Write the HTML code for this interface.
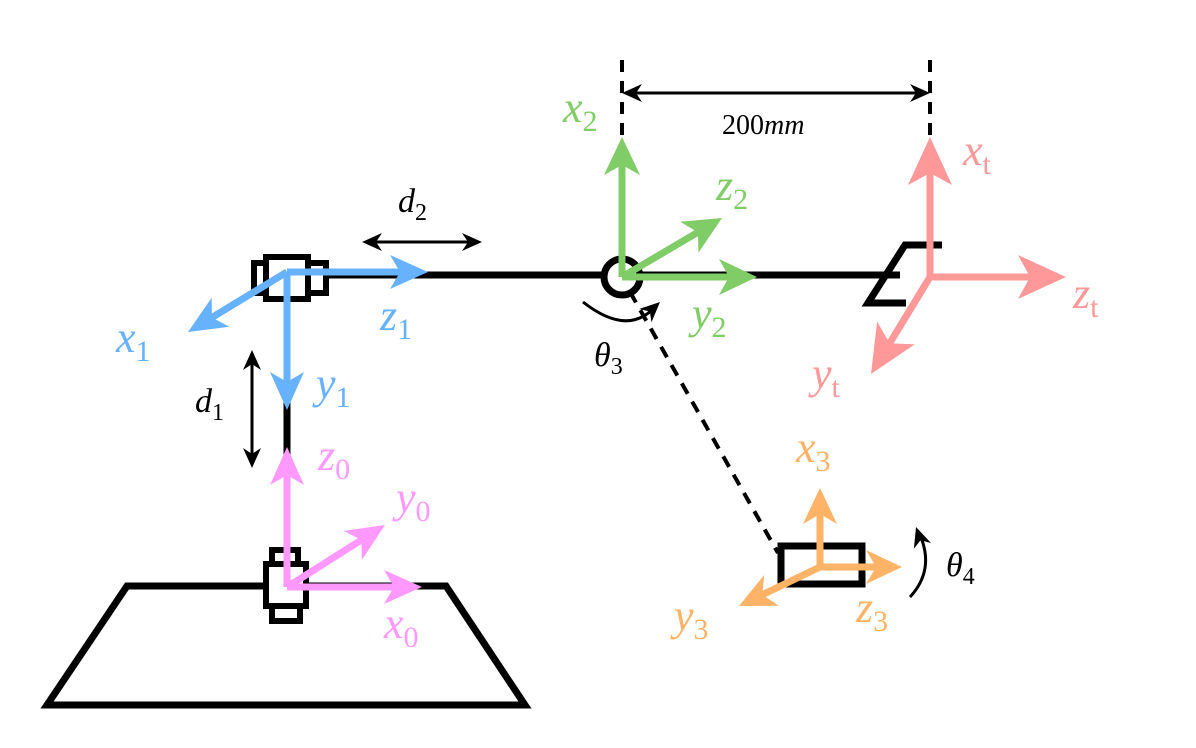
<!DOCTYPE html>
<html><head><meta charset="utf-8"><style>
html,body{margin:0;padding:0;background:#fff;}
svg{display:block;}
text{font-family:"Liberation Serif","DejaVu Serif",serif;}
.v{font-style:italic;font-size:44px;}
.s{font-size:30px;font-style:normal;}
</style></head><body>
<svg id="c" width="1196" height="748" viewBox="0 0 1196 748">
<g fill="none" stroke="#000" stroke-width="7">
<polygon points="127,586 446,586 525,705 47,705" fill="#fff"/>
<line x1="287" y1="300" x2="287" y2="560"/>
<line x1="287" y1="275" x2="900" y2="275"/>
<polyline points="942,245 905,245 868,303 906,303"/>
<rect x="272" y="550" width="26" height="14" fill="#fff" stroke-width="6"/>
<rect x="266" y="564" width="40" height="42" fill="#fff" stroke-width="6"/>
<rect x="272" y="606" width="28" height="15" fill="#fff" stroke-width="6"/>
<rect x="308" y="263" width="18" height="30" fill="#fff" stroke-width="6"/>
<rect x="254" y="263" width="14" height="30" fill="#fff" stroke-width="6"/>
<rect x="266" y="257" width="42" height="42" fill="#fff" stroke-width="6"/>
<circle cx="622" cy="277" r="18" fill="#fff"/>
<rect x="781" y="546" width="81" height="38" fill="#fff" stroke-width="7"/>
</g>
<g stroke="#000" stroke-width="4" fill="none" stroke-dasharray="12,9">
<line x1="630" y1="292" x2="778" y2="553"/>
<line x1="622" y1="60" x2="622" y2="135"/>
<line x1="930" y1="60" x2="930" y2="135"/>
</g>
<g id="arrows"></g>
<g fill="#000">
<text x="722" y="134" font-size="28">200<tspan font-style="italic">mm</tspan></text>
<text class="v" x="398" y="212" style="font-size:34px">d<tspan class="s" dy="8" style="font-size:24px">2</tspan></text>
<text class="v" x="195" y="412" style="font-size:34px">d<tspan class="s" dy="8" style="font-size:24px">1</tspan></text>
<text class="v" x="594" y="366" style="font-size:34px">θ<tspan class="s" dy="8" style="font-size:24px">3</tspan></text>
<text class="v" x="946" y="576" style="font-size:34px">θ<tspan class="s" dy="8" style="font-size:24px">4</tspan></text>
</g>
<g class="lbl">
<text class="v" x="116" y="352" fill="#66b2ff">x<tspan class="s" dy="9">1</tspan></text>
<text class="v" x="380" y="330" fill="#66b2ff">z<tspan class="s" dy="9">1</tspan></text>
<text class="v" x="316" y="398" fill="#66b2ff">y<tspan class="s" dy="9">1</tspan></text>
<text class="v" x="318" y="470" fill="#ff99ff">z<tspan class="s" dy="9">0</tspan></text>
<text class="v" x="396" y="512" fill="#ff99ff">y<tspan class="s" dy="9">0</tspan></text>
<text class="v" x="384" y="638" fill="#ff99ff">x<tspan class="s" dy="9">0</tspan></text>
<text class="v" x="563" y="122" fill="#80cc66">x<tspan class="s" dy="9">2</tspan></text>
<text class="v" x="716" y="200" fill="#80cc66">z<tspan class="s" dy="9">2</tspan></text>
<text class="v" x="692" y="328" fill="#80cc66">y<tspan class="s" dy="9">2</tspan></text>
<text class="v" x="963" y="165" fill="#ff9999">x<tspan class="s" dy="9">t</tspan></text>
<text class="v" x="1073" y="308" fill="#ff9999">z<tspan class="s" dy="9">t</tspan></text>
<text class="v" x="812" y="388" fill="#ff9999">y<tspan class="s" dy="9">t</tspan></text>
<text class="v" x="796" y="462" fill="#ffb366">x<tspan class="s" dy="9">3</tspan></text>
<text class="v" x="674" y="630" fill="#ffb366">y<tspan class="s" dy="9">3</tspan></text>
<text class="v" x="856" y="622" fill="#ffb366">z<tspan class="s" dy="9">3</tspan></text>
</g>
</svg>
<script>
const NS='http://www.w3.org/2000/svg';
const g=document.getElementById('arrows');
function head(x,y,ang,L,W,col,notch){
  const c=Math.cos(ang),s=Math.sin(ang);
  const p=(a,b)=>[x+a*c-b*s,y+a*s+b*c].map(v=>v.toFixed(1)).join(',');
  const poly=document.createElementNS(NS,'polygon');
  poly.setAttribute('points',[p(0,0),p(-L,-W/2),p(-L+notch,0),p(-L,W/2)].join(' '));
  poly.setAttribute('fill',col);
  return poly;
}
function arrow(name,x1,y1,x2,y2,col,w,L,W,notch){
  const ang=Math.atan2(y2-y1,x2-x1);
  const ln=document.createElementNS(NS,'line');
  ln.setAttribute('x1',x1);ln.setAttribute('y1',y1);
  ln.setAttribute('x2',x2-Math.cos(ang)*(L-notch-2));ln.setAttribute('y2',y2-Math.sin(ang)*(L-notch-2));
  ln.setAttribute('stroke',col);ln.setAttribute('stroke-width',w);
  
  
  g.appendChild(ln);
  const h=head(x2,y2,ang,L,W,col,notch);
  
  
  g.appendChild(h);
}
function dbl(name,x1,y1,x2,y2){
  const ang=Math.atan2(y2-y1,x2-x1);
  const ln=document.createElementNS(NS,'line');
  ln.setAttribute('x1',x1+Math.cos(ang)*6);ln.setAttribute('y1',y1+Math.sin(ang)*6);
  ln.setAttribute('x2',x2-Math.cos(ang)*6);ln.setAttribute('y2',y2-Math.sin(ang)*6);
  ln.setAttribute('stroke','#000');ln.setAttribute('stroke-width',3);
  
  
  g.appendChild(ln);
  g.appendChild(head(x2,y2,ang,20,18,'#000',6));
  g.appendChild(head(x1,y1,ang+Math.PI,20,18,'#000',6));
}
const B='#66b2ff',P='#ff99ff',G='#80cc66',R='#ff9999',O='#ffb366';
arrow('arrow-z0',287,587,287,447,P,7,38,34,10);
arrow('arrow-y0',287,587,385,525,P,7,38,34,10);
arrow('arrow-x0',287,587,422,587,P,7,38,34,10);
arrow('arrow-z1',287,272,428,272,B,7,38,34,10);
arrow('arrow-x1',287,272,188,332,B,7,38,34,10);
arrow('arrow-y1',287,272,287,410,B,7,38,34,10);
arrow('arrow-x2',622,277,622,137,G,7,38,36,10);
arrow('arrow-z2',622,277,722,218,G,7,38,36,10);
arrow('arrow-y2',622,277,757,277,G,7,38,36,10);
arrow('arrow-xt',930,277,930,137,R,7,48,44,12);
arrow('arrow-zt',930,277,1066,277,R,7,48,44,12);
arrow('arrow-yt',930,277,871,374,R,7,48,44,12);
arrow('arrow-x3',820,567,820,488,O,7,36,34,10);
arrow('arrow-z3',820,567,902,567,O,7,36,34,10);
arrow('arrow-y3',820,567,739,606,O,7,36,34,10);
dbl('dim-200mm',622,93,930,93);
dbl('dim-d2',362,242,482,242);
dbl('dim-d1',252,350,252,468);
function arc(name,d,tx,ty,ang){
  const p=document.createElementNS(NS,'path');
  p.setAttribute('d',d);p.setAttribute('fill','none');p.setAttribute('stroke','#000');p.setAttribute('stroke-width',3);
  
  
  g.appendChild(p);
  g.appendChild(head(tx,ty,ang,20,18,'#000',6));
}
arc('arc-theta3','M583,302 Q625,335 652,310',660,302,-0.75);
arc('arc-theta4','M910,597 Q935,570 920,535',916,527,-1.9);
</script>
</body></html>
